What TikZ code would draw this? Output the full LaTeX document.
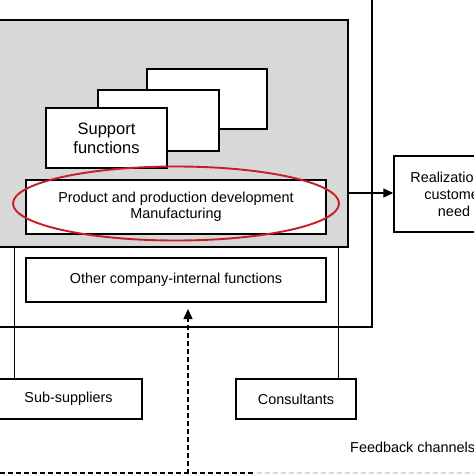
\documentclass[tikz,border=0pt]{standalone}
\usepackage{fontspec}
\setmainfont{Liberation Sans}
\usetikzlibrary{arrows.meta,shapes.geometric}
\definecolor{panelgray}{HTML}{D8D8D8}
\definecolor{ellred}{HTML}{C41E26}
\begin{document}
\begin{tikzpicture}[x=1pt,y=-1pt,
  box/.style={draw=black, line width=1.4pt, fill=white, inner sep=0pt, align=center, font=\fontsize{14.4}{16.5}\selectfont},
  link/.style={draw=black, line width=1pt},
  fb/.style={draw=black, line width=1.4pt, dash pattern=on 5pt off 3pt},
  tip/.style={-{Triangle[length=10pt,width=9pt]}}
]
\useasboundingbox (0,0) rectangle (474,474);
% outer frame
\draw[line width=1.2pt] (-5,-10) rectangle (372,327);
% gray panel
\node[draw=black, line width=1.4pt, fill=panelgray, minimum width=353pt, minimum height=227pt, inner sep=0pt] (panel) at (171.5,133.5) {};
% stacked support boxes
\node[box, minimum width=120pt, minimum height=60pt] (s3) at (207,99) {};
\node[box, minimum width=121pt, minimum height=61pt] (s2) at (158.5,120.5) {};
\node[box, minimum width=121pt, minimum height=60pt, font=\fontsize{16.5}{19}\selectfont] (s1) at (106.5,138) {Support\\functions};
% product box
\node[box, minimum width=300pt, minimum height=54pt] (prod) at (176,207) {Product and production development\\Manufacturing};
% red ellipse
\node[draw=ellred, line width=1.9pt, ellipse, minimum width=326pt, minimum height=74pt, inner sep=0pt] (ell) at (176,203.5) {};
% other functions
\node[box, minimum width=300pt, minimum height=44pt] (other) at (176,280) {Other company-internal functions};
% realization
\node[box, minimum width=120pt, minimum height=76pt, font=\fontsize{14.4}{17}\selectfont] (real) at (454,194) {Realization of\\customer\\need};
\draw[line width=1.2pt, tip] (348,193) -- (real.west |- 0,193);
% suppliers and consultants
\node[box, minimum width=147pt, minimum height=40pt] (sub) at (68.5,399) {Sub-suppliers};
\node[box, minimum width=120pt, minimum height=40pt] (cons) at (296,399) {Consultants};
\draw[link] (14,247) -- (sub.north -| 14,0);
\draw[link] (338,247) -- (cons.north -| 338,0);
% feedback
\node[font=\fontsize{14.4}{16.5}\selectfont, anchor=base west, inner sep=0pt] (fbl) at (350,452) {Feedback channels};
\coordinate (fbstart) at (188,474);
\coordinate (fbtop) at (188,309);
\draw[fb, tip] (fbstart) -- (fbtop);
\draw[fb] (0,473) -- (255,473);
\draw[fb, draw=black!15] (257,473) -- (480,473);
\end{tikzpicture}
\end{document}
